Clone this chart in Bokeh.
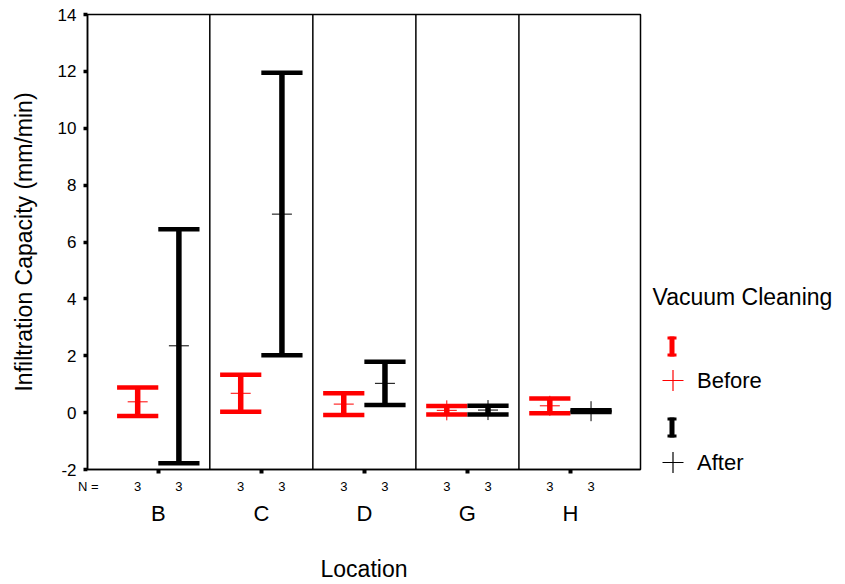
from bokeh.plotting import figure
from bokeh.models import Range1d, FixedTicker, Span, ColumnDataSource, LinearAxis
from bokeh.layouts import row
from bokeh.embed import file_html
from bokeh.resources import INLINE
from bokeh.core.properties import value

# ---------------- data ----------------
locations = ["B", "C", "D", "G", "H"]
n_before = [3, 3, 3, 3, 3]
n_after = [3, 3, 3, 3, 3]
before_mean = [0.38, 0.68, 0.30, 0.08, 0.24]
before_lower = [-0.12, 0.03, -0.08, -0.07, -0.02]
before_upper = [0.88, 1.33, 0.68, 0.23, 0.50]
after_mean = [2.35, 6.98, 1.03, 0.09, 0.05]
after_lower = [-1.78, 2.02, 0.27, -0.07, 0.02]
after_upper = [6.45, 11.95, 1.79, 0.24, 0.08]
y_ticks = [-2, 0, 2, 4, 6, 8, 10, 12, 14]
series_names = ["Before", "After"]
legend_title = "Vacuum Cleaning"
n_prefix = "N ="

# ---------------- style ----------------
FONT = "Liberation Sans"
COLORS = ["#FF0000", "#000000"]
OFFSETS = [-0.2, 0.2]
CAP_HALF = 0.2

group_x = [i + 1 for i in range(len(locations))]

p = figure(width=648, height=584,
           x_range=Range1d(0.313, len(locations) + 0.68),
           y_range=Range1d(y_ticks[0], y_ticks[-1]),
           output_backend="svg", toolbar_location=None,
           min_border_left=87, min_border_right=8,
           min_border_top=14, min_border_bottom=115)
p.frame_align = False
p.title.visible = False
p.xgrid.visible = False
p.ygrid.visible = False
p.outline_line_color = "black"
p.outline_line_width = 1.5
p.outline_line_alpha = 1.0
p.background_fill_color = "white"
p.border_fill_color = "white"

# y axis
ya = p.yaxis[0]
ya.ticker = FixedTicker(ticks=y_ticks)
ya.major_label_overrides = {t: str(t) for t in y_ticks}
ya.major_tick_in = 0
ya.major_tick_out = 4
ya.major_tick_line_width = 3.5
ya.minor_tick_in = 0
ya.minor_tick_out = 0
ya.axis_line_width = 1.5
ya.major_label_text_font = FONT
ya.major_label_text_font_size = "17px"
ya.major_label_text_color = "black"
ya.major_label_standoff = 7
ya.axis_label = "Infiltration Capacity (mm/min)"
ya.axis_label_text_font = FONT
ya.axis_label_text_font_size = "23px"
ya.axis_label_text_font_style = "normal"
ya.axis_label_text_color = "black"
ya.axis_label_standoff = 18

# x axis A: tick marks only
xa = p.xaxis[0]
xa.ticker = FixedTicker(ticks=group_x)
xa.major_label_overrides = {g: "" for g in group_x}
xa.major_label_text_font_size = "1px"
xa.major_label_standoff = 0
xa.major_tick_in = 0
xa.major_tick_out = 4
xa.major_tick_line_width = 4
xa.minor_tick_in = 0
xa.minor_tick_out = 0
xa.axis_line_width = 1.5

# x axis B: N counts
n_pos = [p.x_range.start + 0.007]
n_lab = {n_pos[0]: n_prefix}
for g, nb, na in zip(group_x, n_before, n_after):
    xb = round(g + OFFSETS[0], 3)
    xf = round(g + OFFSETS[1], 3)
    n_pos += [xb, xf]
    n_lab[xb] = str(nb)
    n_lab[xf] = str(na)
ax_n = LinearAxis(ticker=FixedTicker(ticks=n_pos), major_label_overrides=n_lab,
                  axis_line_color=None, major_tick_in=0, major_tick_out=0,
                  minor_tick_in=0, minor_tick_out=0,
                  major_label_text_font=FONT, major_label_text_font_size="13px",
                  major_label_text_color="black", major_label_standoff=5)
p.add_layout(ax_n, "below")

# x axis C: location names + title
ax_l = LinearAxis(ticker=FixedTicker(ticks=group_x),
                  major_label_overrides={g: loc for g, loc in zip(group_x, locations)},
                  axis_line_color=None, major_tick_in=0, major_tick_out=0,
                  minor_tick_in=0, minor_tick_out=0,
                  major_label_text_font=FONT, major_label_text_font_size="22px",
                  major_label_text_color="black", major_label_standoff=4,
                  axis_label="Location", axis_label_text_font=FONT,
                  axis_label_text_font_size="23px", axis_label_text_font_style="normal",
                  axis_label_text_color="black", axis_label_standoff=27)
p.add_layout(ax_l, "below")

# separators between locations
for g in group_x[:-1]:
    p.add_layout(Span(location=g + 0.5, dimension="height",
                      line_color="black", line_width=1.5))

# error bars
series = [
    (before_mean, before_lower, before_upper),
    (after_mean, after_lower, after_upper),
]
for (mean, lo, hi), col, off in zip(series, COLORS, OFFSETS):
    xs = [g + off for g in group_x]
    src = ColumnDataSource(dict(
        x=xs, lo=lo, hi=hi, mean=mean,
        cx0=[x - CAP_HALF for x in xs], cx1=[x + CAP_HALF for x in xs],
    ))
    p.segment(x0="x", y0="lo", x1="x", y1="hi", source=src,
              line_color=col, line_width=5.5)
    p.segment(x0="cx0", y0="lo", x1="cx1", y1="lo", source=src,
              line_color=col, line_width=4.5)
    p.segment(x0="cx0", y0="hi", x1="cx1", y1="hi", source=src,
              line_color=col, line_width=4.5)
    p.scatter(x="x", y="mean", source=src, marker="cross", size=20,
              line_color=col, line_width=1)

# ---------------- legend (separate panel, page-pixel coordinates) ----------------
LW, LH = 197, 584
X0 = 648
lg = figure(width=LW, height=LH, x_range=Range1d(X0, X0 + LW), y_range=Range1d(LH, 0),
            output_backend="svg", toolbar_location=None,
            min_border=0, min_border_left=0, min_border_right=0,
            min_border_top=0, min_border_bottom=0)
lg.frame_align = False
lg.title.visible = False
lg.axis.visible = False
lg.xgrid.visible = False
lg.ygrid.visible = False
lg.outline_line_color = None
lg.background_fill_color = "white"
lg.border_fill_color = "white"

lg.text(x=[652], y=[296], text=[legend_title], text_font=value(FONT),
        text_font_size="23px", text_color="black",
        text_align="left", text_baseline="middle")

item_y = [(346, 380), (427, 462)]
for name, col, (iy, cy) in zip(series_names, COLORS, item_y):
    lg.segment(x0=[671.5], y0=[iy - 10], x1=[671.5], y1=[iy + 10],
               line_color=col, line_width=5)
    lg.segment(x0=[667, 667], y0=[iy - 8.5, iy + 8.5], x1=[676, 676], y1=[iy - 8.5, iy + 8.5],
               line_color=col, line_width=3)
    lg.scatter(x=[672.5], y=[cy], marker="cross", size=21, line_color=col, line_width=1.2)
    lg.text(x=[696.5], y=[cy], text=[name], text_font=value(FONT),
            text_font_size="22px", text_color="black",
            text_align="left", text_baseline="middle")

layout = row(p, lg)
open("out.html", "w").write(file_html(layout, INLINE))
